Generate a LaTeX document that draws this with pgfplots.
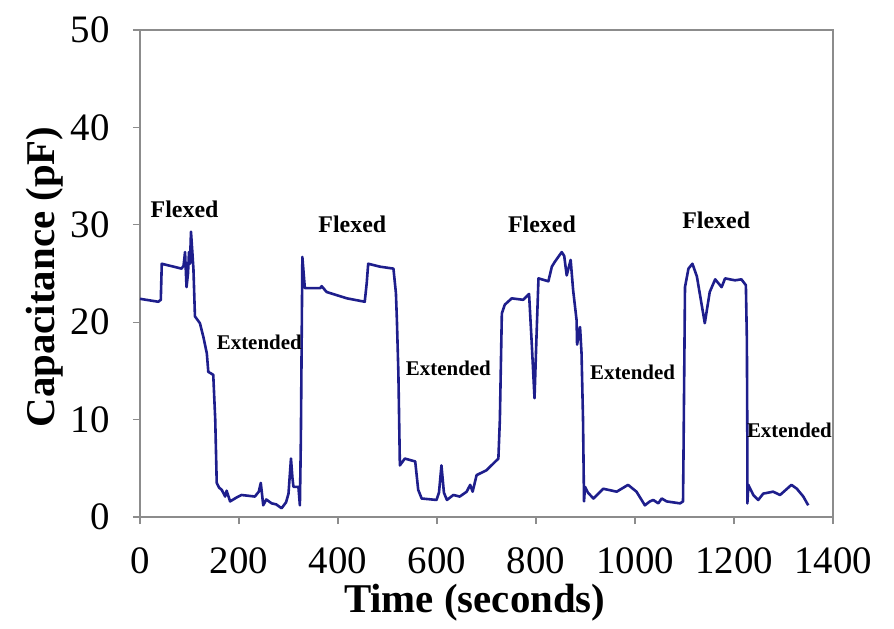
\documentclass[border=0pt]{standalone}
\usepackage{pgfplots}
\pgfplotsset{compat=1.18}
\usepackage{fontspec}
\setmainfont{Liberation Serif}
\definecolor{linecol}{RGB}{30,30,140}
\definecolor{axgray}{RGB}{140,140,140}
\pgfplotstableread{
x y
0 22.4
37 22.1
42 22.3
44 26.0
84 25.5
88 25.8
91 27.2
94 23.6
97 25.0
99 27.2
101 26.0
103 29.3
106 27.0
108 25.4
111 20.6
121 19.9
128 18.5
135 16.8
138 14.9
148 14.6
152 10.0
155 3.5
160 3.0
165 2.8
172 2.1
175 2.7
182 1.6
195 2.0
205 2.26
232 2.1
240 2.6
244 3.5
249 1.2
255 1.8
266 1.4
275 1.3
286 0.9
295 1.5
300 2.4
305 6.0
308 4.0
310 3.1
320 3.1
323 1.2
325 8.0
328 26.7
333 23.5
354 23.5
364 23.5
367 23.7
377 23.1
418 22.45
454 22.1
458 24.0
461 26.0
485 25.7
512 25.5
517 23.0
519 20.2
522 14.75
525 5.3
535 6.0
556 5.7
562 2.8
569 1.9
599 1.75
604 2.5
609 5.3
614 2.5
620 1.75
633 2.26
646 2.1
660 2.6
667 3.3
672 2.6
680 4.3
700 4.8
724 6.0
727 10.0
731 20.9
737 21.8
751 22.45
774 22.3
786 22.9
791 18.2
797 12.2
801 18.5
805 24.5
825 24.2
832 25.7
838 26.2
852 27.2
857 26.8
862 24.8
870 26.4
875 23.3
882 20.2
883 17.7
889 19.5
892 16.8
895 10.0
897 1.6
899 3.1
905 2.5
916 1.9
936 2.9
963 2.6
986 3.3
1003 2.6
1020 1.2
1030 1.6
1037 1.75
1047 1.4
1054 1.9
1064 1.6
1091 1.4
1097 1.6
1098 6.5
1101 23.6
1108 25.5
1116 26.0
1125 24.7
1141 19.9
1151 23.1
1162 24.4
1175 23.6
1182 24.5
1202 24.3
1215 24.4
1224 23.8
1226 18.2
1227 7.2
1227 1.4
1229 3.3
1239 2.26
1249 1.75
1259 2.4
1279 2.6
1293 2.26
1316 3.3
1327 2.9
1340 2.1
1350 1.2
}\captable
\begin{document}
\begin{tikzpicture}
\begin{axis}[
  at={(0,0)}, anchor=south west,
  scale only axis, width=693bp, height=487bp,
  xmin=0, xmax=1400, ymin=0, ymax=50,
  xtick={0,200,...,1400}, ytick={0,10,...,50},
  tick align=outside, xtick pos=bottom, ytick pos=left,
  major tick length=7bp,
  axis line style={axgray, line width=1.3bp},
  tick style={axgray, line width=1.3bp},
  /pgf/number format/assume math mode=true,
  /pgf/number format/1000 sep={},
  ticklabel style={font=\fontsize{39}{44}\selectfont},
  xticklabel style={yshift=-20bp},
  yticklabel style={xshift=-20bp},
  xlabel={Time (seconds)},
  ylabel={Capacitance (pF)},
  xlabel style={at={(axis description cs:0.483,-0.197)}, anchor=base, font=\fontsize{41}{46}\selectfont\bfseries},
  ylabel style={at={(axis description cs:-0.1227,0.493)}, anchor=base, font=\fontsize{41}{46}\selectfont\bfseries},
  clip=false,
]
\addplot[color=linecol, line width=2.6bp, line join=round] table[x=x,y=y] {\captable};
\node[font=\fontsize{24}{28}\selectfont\bfseries] at (axis cs:90,31.6) {Flexed};
\node[font=\fontsize{24}{28}\selectfont\bfseries] at (axis cs:429,30.1) {Flexed};
\node[font=\fontsize{24}{28}\selectfont\bfseries] at (axis cs:812,30.1) {Flexed};
\node[font=\fontsize{24}{28}\selectfont\bfseries] at (axis cs:1164,30.5) {Flexed};
\node[font=\fontsize{21}{25}\selectfont\bfseries] at (axis cs:241,17.9) {Extended};
\node[font=\fontsize{21}{25}\selectfont\bfseries] at (axis cs:623,15.25) {Extended};
\node[font=\fontsize{21}{25}\selectfont\bfseries] at (axis cs:995,14.9) {Extended};
\node[font=\fontsize{21}{25}\selectfont\bfseries] at (axis cs:1312,8.9) {Extended};
\end{axis}
\pgfresetboundingbox
\path[use as bounding box] (-140bp,-112bp) rectangle (754bp,517bp);
\end{tikzpicture}
\end{document}
